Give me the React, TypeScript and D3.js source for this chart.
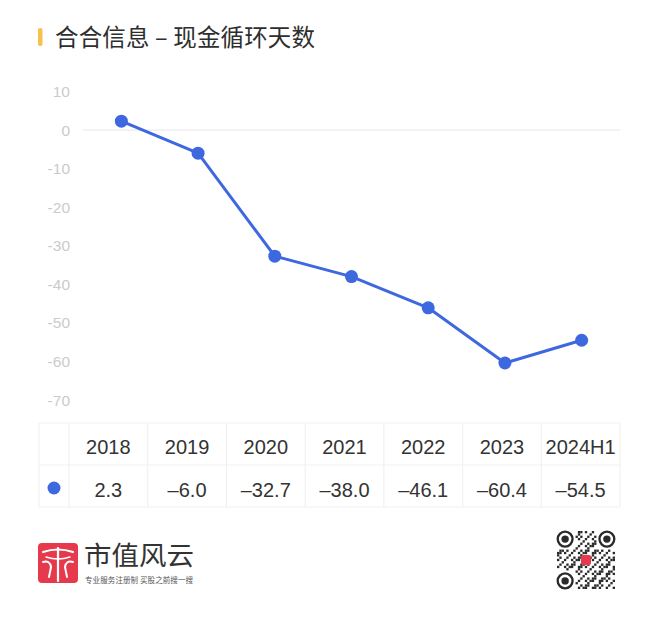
import React, { useEffect, useRef } from 'react';
import * as d3 from 'd3';

const categories = ['2018', '2019', '2020', '2021', '2022', '2023', '2024H1'];
const cashCycleDays = [2.3, -6.0, -32.7, -38.0, -46.1, -60.4, -54.5];
const yTicks = [10, 0, -10, -20, -30, -40, -50, -60, -70];

const titleText = '合合信息 – 现金循环天数';
const brandName = '市值风云';
const brandSlogan = '专业服务注册制 买股之前搜一搜';

const WIDTH = 660;
const HEIGHT = 622;
const LINE_COLOR = '#3d68e0';
const FONT = "'Liberation Sans', 'Noto Sans CJK SC', sans-serif";

const App: React.FC = () => {
  const svgRef = useRef<SVGSVGElement>(null);

  useEffect(() => {
    if (!svgRef.current) return;
    const svg = d3.select(svgRef.current);
    svg.selectAll('*').remove();

    svg.append('rect').attr('width', WIDTH).attr('height', HEIGHT).attr('fill', '#fff');

    // Title
    svg.append('rect')
      .attr('x', 38).attr('y', 28).attr('width', 4.5).attr('height', 18).attr('rx', 2)
      .attr('fill', '#f4c24d');
    svg.append('text')
      .attr('x', 55).attr('y', 46)
      .attr('font-family', "'Noto Sans CJK SC', sans-serif")
      .attr('font-size', 23.5).attr('font-weight', 400)
      .attr('fill', '#2e2e2e')
      .attr('textLength', 260)
      .text(titleText);

    // Scales
    const x = d3.scaleBand<string>().domain(categories).range([83, 620]);
    const y = d3.scaleLinear().domain([-70, 10]).range([400, 91.5]);

    // Y tick labels
    svg.append('g')
      .selectAll('text')
      .data(yTicks)
      .enter().append('text')
      .attr('x', 70)
      .attr('y', d => y(d) + 5.5)
      .attr('text-anchor', 'end')
      .attr('font-family', FONT)
      .attr('font-size', 15.5)
      .attr('fill', '#cbcbcb')
      .text(d => String(d));

    // zero line
    svg.append('line')
      .attr('x1', 83).attr('x2', 620)
      .attr('y1', y(0)).attr('y2', y(0))
      .attr('stroke', '#e6e6e6').attr('stroke-width', 1);

    const pts = categories.map((c, i) => ({ c, v: cashCycleDays[i] }));
    const line = d3.line<{ c: string; v: number }>()
      .x(d => (x(d.c) as number) + x.bandwidth() / 2)
      .y(d => y(d.v));

    svg.append('path')
      .datum(pts)
      .attr('fill', 'none')
      .attr('stroke', LINE_COLOR)
      .attr('stroke-width', 3)
      .attr('stroke-linejoin', 'round')
      .attr('d', line);

    svg.append('g')
      .selectAll('circle')
      .data(pts)
      .enter().append('circle')
      .attr('cx', d => (x(d.c) as number) + x.bandwidth() / 2)
      .attr('cy', d => y(d.v))
      .attr('r', 6.5)
      .attr('fill', LINE_COLOR);

    // Data table
    const tx = d3.scaleBand<string>().domain(categories).range([69, 620]);
    const rows = [423, 465, 507];
    const table = svg.append('g');
    const border = '#f1f1f1';
    rows.forEach(ry => {
      table.append('line').attr('x1', 39).attr('x2', 620).attr('y1', ry).attr('y2', ry)
        .attr('stroke', border).attr('stroke-width', 1.2);
    });
    const cols = [39, 69, ...categories.map(c => (tx(c) as number) + tx.bandwidth())];
    cols.forEach(cx => {
      table.append('line').attr('x1', cx).attr('x2', cx).attr('y1', rows[0]).attr('y2', rows[2])
        .attr('stroke', border).attr('stroke-width', 1.2);
    });

    const fmt = (v: number) => d3.format('.1f')(v).replace(/[-−]/, '–');

    table.selectAll('.hdr')
      .data(categories)
      .enter().append('text')
      .attr('class', 'hdr')
      .attr('x', d => (tx(d) as number) + tx.bandwidth() / 2)
      .attr('y', 454)
      .attr('text-anchor', 'middle')
      .attr('font-family', FONT)
      .attr('font-size', 20)
      .attr('fill', '#333')
      .text(d => d);

    table.selectAll('.val')
      .data(pts)
      .enter().append('text')
      .attr('class', 'val')
      .attr('x', d => (tx(d.c) as number) + tx.bandwidth() / 2)
      .attr('y', 497)
      .attr('text-anchor', 'middle')
      .attr('font-family', FONT)
      .attr('font-size', 20)
      .attr('fill', '#333')
      .text(d => fmt(d.v));

    table.append('circle')
      .attr('cx', 54).attr('cy', 488).attr('r', 6.5).attr('fill', LINE_COLOR);

    // Brand logo
    const logo = svg.append('g').attr('transform', 'translate(38,543)');
    logo.append('rect').attr('width', 40).attr('height', 40).attr('rx', 4).attr('fill', '#e63a4c');
    const stroke = (d: string, w: number) =>
      logo.append('path').attr('d', d).attr('stroke', '#fff').attr('fill', 'none')
        .attr('stroke-width', w).attr('stroke-linecap', 'round');
    stroke('M5,9 Q20,4 35,9', 2.2);
    stroke('M20,5 L20,38', 2.2);
    stroke('M5,19 Q12,17 13,24 L11,34', 2);
    stroke('M35,19 Q28,17 27,24 L29,34', 2);
    stroke('M8,14 Q20,18 32,14', 1.4);

    svg.append('text')
      .attr('x', 84).attr('y', 565)
      .attr('font-family', "'Noto Sans CJK SC', sans-serif")
      .attr('font-size', 26).attr('font-weight', 400)
      .attr('fill', '#333')
      .attr('textLength', 110)
      .attr('lengthAdjust', 'spacingAndGlyphs')
      .text(brandName);
    svg.append('text')
      .attr('x', 85).attr('y', 583)
      .attr('font-family', "'Noto Sans CJK SC', sans-serif")
      .attr('font-size', 7.5)
      .attr('fill', '#555')
      .attr('textLength', 108)
      .text(brandSlogan);

    // QR code (decorative)
    const qr = svg.append('g').attr('transform', 'translate(557,531)');
    const n = 25;
    const m = 58 / n;
    const inFinder = (i: number, j: number) =>
      (i < 8 && j < 8) || (i < 8 && j >= n - 8) || (i >= n - 8 && j < 8);
    for (let i = 0; i < n; i++) {
      for (let j = 0; j < n; j++) {
        if (inFinder(i, j)) continue;
        if ((i * 7 + j * 11 + i * j) % 3 === 0 || (i + j) % 5 === 0) {
          qr.append('rect').attr('x', j * m).attr('y', i * m).attr('width', m).attr('height', m).attr('fill', '#2a2a2a');
        }
      }
    }
    [[3.5, 3.5], [3.5, n - 3.5], [n - 3.5, 3.5]].forEach(([r, c]) => {
      qr.append('circle').attr('cx', c * m).attr('cy', r * m).attr('r', 3.2 * m)
        .attr('fill', '#fff').attr('stroke', '#2a2a2a').attr('stroke-width', m);
      qr.append('circle').attr('cx', c * m).attr('cy', r * m).attr('r', 1.6 * m).attr('fill', '#2a2a2a');
    });
    qr.append('rect').attr('x', 24).attr('y', 24).attr('width', 10).attr('height', 10).attr('rx', 2).attr('fill', '#e63a4c');
  }, []);

  return (
    <div style={{ position: 'absolute', left: 0, top: 0 }}>
      <svg ref={svgRef} width={WIDTH} height={HEIGHT}></svg>
    </div>
  );
};

export default App;
